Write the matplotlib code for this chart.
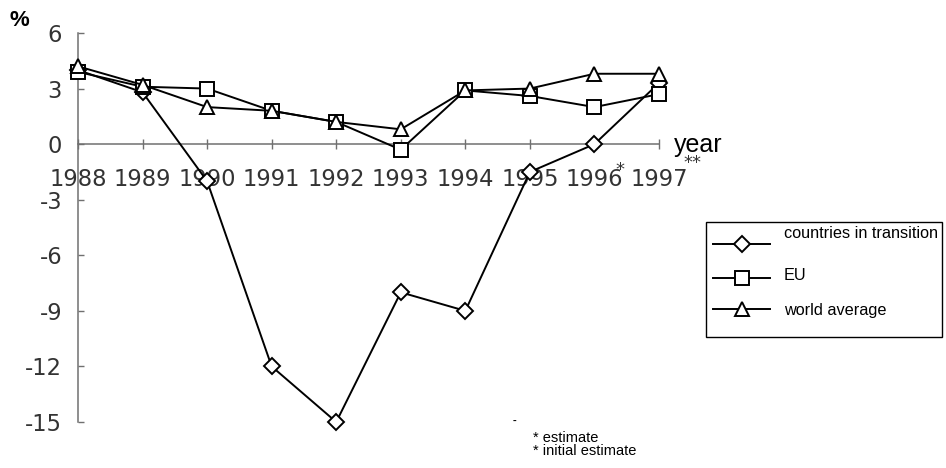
import matplotlib.pyplot as plt
from matplotlib.lines import Line2D
from matplotlib.patches import Rectangle

# GDP growth, % per year
years = [1988, 1989, 1990, 1991, 1992, 1993, 1994, 1995, 1996, 1997]
transition = [4.0, 2.8, -2.0, -12.0, -15.0, -8.0, -9.0, -1.5, 0.0, 3.3]
eu = [3.9, 3.1, 3.0, 1.8, 1.2, -0.3, 2.9, 2.6, 2.0, 2.7]
world = [4.2, 3.2, 2.0, 1.8, 1.2, 0.8, 2.9, 3.0, 3.8, 3.8]

series_names = ["countries in transition", "EU", "world average"]
series_markers = ["D", "s", "^"]
marker_sizes = [8.5, 9.5, 9.5]
yticks = [-15, -12, -9, -6, -3, 0, 3, 6]

W, H = 946, 468

plt.rcParams["axes.unicode_minus"] = False


def fx(px):
    return px / W


def fy(py):
    return 1 - py / H


fig = plt.figure(figsize=(W / 100, H / 100), dpi=100)
ax = fig.add_axes([fx(78), fy(422), fx(659) - fx(78), fy(33) - fy(422)])

for vals, mk, ms in zip([transition, eu, world], series_markers, marker_sizes):
    ax.plot(years, vals, color="black", lw=1.4, marker=mk, ms=ms,
            mfc="white", mec="black", mew=1.4, clip_on=False, zorder=3)

ax.set_xlim(1988, 1997)
ax.set_ylim(-15, 6)

# axis lines: y on the left, x through zero
for s in ["top", "right"]:
    ax.spines[s].set_visible(False)
ax.spines["bottom"].set_position(("data", 0))
for s in ["left", "bottom"]:
    ax.spines[s].set_color("#707070")
    ax.spines[s].set_linewidth(1.1)

ax.set_xticks(years)
ax.set_xticklabels([str(y) for y in years])
ax.set_yticks(yticks)
ax.tick_params(axis="x", direction="inout", length=7.5, width=1.0,
               color="#707070", pad=13.5, labelsize=16.3)
ax.tick_params(axis="y", direction="in", length=4, width=1.0,
               color="#707070", pad=11.5, labelsize=16.3)
for lab in ax.get_xticklabels() + ax.get_yticklabels():
    lab.set_color("#333333")

fig.text(fx(9), fy(20), "%", fontsize=16, fontweight="bold",
         family="Liberation Sans", va="center", ha="left")
fig.text(fx(674), fy(145), "year", fontsize=18, family="Liberation Sans",
         va="center", ha="left")
fig.text(fx(683), fy(163), "**", fontsize=13, family="DejaVu Sans",
         color="#333333", va="center", ha="left")
fig.text(fx(615), fy(170), "*", fontsize=13, family="DejaVu Sans",
         color="#333333", va="center", ha="left")

# legend box
fig.add_artist(Rectangle((fx(706), fy(337)), fx(942) - fx(706), fy(222) - fy(337),
                         transform=fig.transFigure, fill=False,
                         edgecolor="black", lw=1.0))
line_rows = [244, 278, 309]
text_rows = [233, 275, 310]
for name, mk, ms, ly, ty in zip(series_names, series_markers, marker_sizes,
                                line_rows, text_rows):
    fig.add_artist(Line2D([fx(713), fx(770)], [fy(ly), fy(ly)],
                          transform=fig.transFigure, color="black", lw=1.4))
    fig.add_artist(Line2D([fx(741.5)], [fy(ly)], transform=fig.transFigure,
                          marker=mk, ms=ms, mfc="white", mec="black", mew=1.4,
                          linestyle="none"))
    fig.text(fx(784), fy(ty), name, fontsize=11.7, family="Liberation Sans",
             va="center", ha="left")

# footnotes
fig.text(fx(513), fy(421), "-", fontsize=8, fontweight="bold",
         family="Liberation Sans", va="center", ha="left")
fig.text(fx(533), fy(438), "* estimate", fontsize=10.5,
         family="Liberation Sans", va="center", ha="left")
fig.text(fx(533), fy(451), "* initial estimate", fontsize=10.5,
         family="Liberation Sans", va="center", ha="left")

fig.savefig("out.png", dpi=100)
